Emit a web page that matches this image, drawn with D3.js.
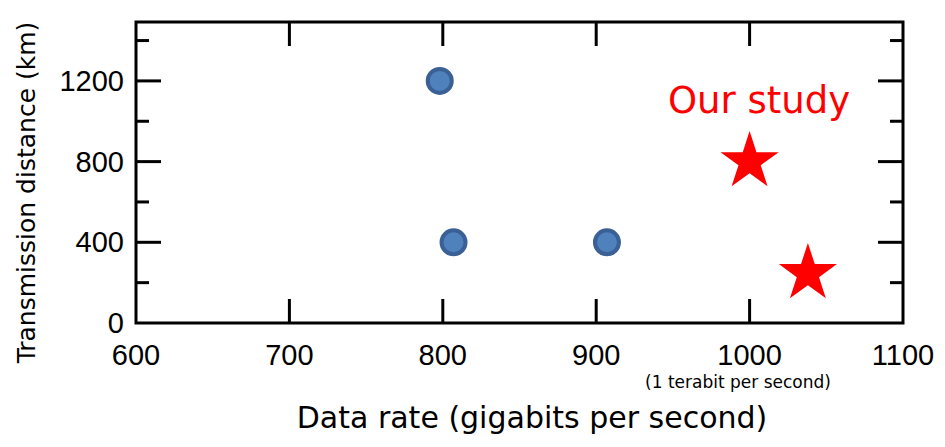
<!DOCTYPE html>
<html><head><meta charset="utf-8">
<script src="https://cdn.jsdelivr.net/npm/d3@7"></script>
<style>body{margin:0;background:#fff}</style></head>
<body><svg width="945" height="447"></svg>
<script>
const priorX = [798, 807, 907];
const priorY = [1200, 400, 400];
const studyX = [1000, 1038];
const studyY = [810, 255];
const xTicks = [600, 700, 800, 900, 1000, 1100];
const yTicks = [0, 400, 800, 1200];
const yMinor = [200, 600, 1000, 1400];

const svg = d3.select("svg");
const L = 136, R = 903, T = 22, B = 323;
const x = d3.scaleLinear().domain([600, 1100]).range([L, R]);
const y = d3.scaleLinear().domain([0, 1492]).range([B, T]);
const font = "'Liberation Sans', Arial, sans-serif";
const g = svg.append("g");
g.append("rect").attr("x", L).attr("y", T).attr("width", R - L).attr("height", B - T)
  .attr("fill", "none").attr("stroke", "#000").attr("stroke-width", 3);
xTicks.slice(1, -1).forEach(v => {
  g.append("line").attr("x1", x(v)).attr("x2", x(v)).attr("y1", B).attr("y2", B - 24).attr("stroke", "#000").attr("stroke-width", 3);
  g.append("line").attr("x1", x(v)).attr("x2", x(v)).attr("y1", T).attr("y2", T + 24).attr("stroke", "#000").attr("stroke-width", 3);
});
xTicks.forEach(v => g.append("text").attr("x", x(v)).attr("y", B + 42).attr("text-anchor", "middle")
  .attr("font-family", font).attr("font-size", 29).text(v));
yTicks.slice(1).forEach(v => {
  g.append("line").attr("x1", L).attr("x2", L + 25).attr("y1", y(v)).attr("y2", y(v)).attr("stroke", "#000").attr("stroke-width", 3);
  g.append("line").attr("x1", R).attr("x2", R - 25).attr("y1", y(v)).attr("y2", y(v)).attr("stroke", "#000").attr("stroke-width", 3);
});
yMinor.forEach(v => {
  g.append("line").attr("x1", L).attr("x2", L + 13).attr("y1", y(v)).attr("y2", y(v)).attr("stroke", "#000").attr("stroke-width", 3);
  g.append("line").attr("x1", R).attr("x2", R - 13).attr("y1", y(v)).attr("y2", y(v)).attr("stroke", "#000").attr("stroke-width", 3);
});
yTicks.forEach(v => g.append("text").attr("x", L - 12).attr("y", y(v) + 10).attr("text-anchor", "end")
  .attr("font-family", font).attr("font-size", 29).text(v));
priorX.forEach((v, i) => g.append("circle").attr("cx", x(v)).attr("cy", y(priorY[i])).attr("r", 12)
  .attr("fill", "#4f81bd").attr("stroke", "#3a6095").attr("stroke-width", 4));
const star = d3.symbol().type(d3.symbolStar).size(1050);
studyX.forEach((v, i) => g.append("path").attr("d", star()).attr("transform", `translate(${x(v)},${y(studyY[i]) + 2})`).attr("fill", "#ff0000"));
g.append("text").attr("x", 759).attr("y", 113).attr("text-anchor", "middle").attr("fill", "#ff0000")
  .attr("font-family", "'DejaVu Sans', Verdana, sans-serif").attr("font-size", 37).text("Our study");
g.append("text").attr("x", 738).attr("y", 388).attr("text-anchor", "middle")
  .attr("font-family", "'DejaVu Sans', Verdana, sans-serif").attr("font-size", 17).text("(1 terabit per second)");
g.append("text").attr("x", 532).attr("y", 428).attr("text-anchor", "middle")
  .attr("font-family", "'DejaVu Sans', Verdana, sans-serif").attr("font-size", 30).text("Data rate (gigabits per second)");
g.append("text").attr("transform", `translate(35,${(T + B) / 2 + 20}) rotate(-90)`).attr("text-anchor", "middle")
  .attr("font-family", "'DejaVu Sans', Verdana, sans-serif").attr("font-size", 25).text("Transmission distance (km)");
</script></body></html>
